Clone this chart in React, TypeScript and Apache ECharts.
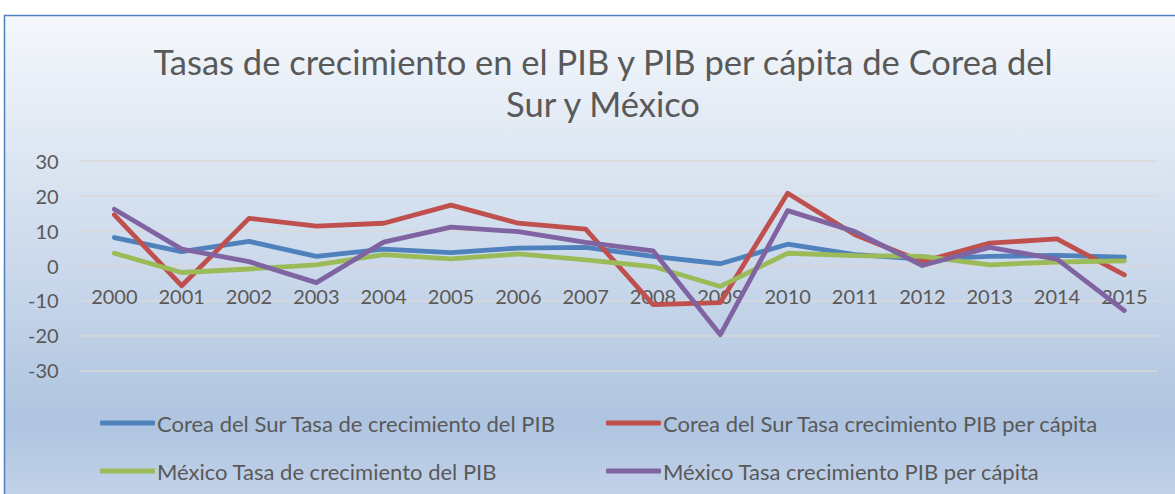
import React, { useEffect, useRef } from "react";
import * as echarts from "echarts";

const years = ["2000","2001","2002","2003","2004","2005","2006","2007","2008","2009","2010","2011","2012","2013","2014","2015"];
const coreaPIB = [8.0, 4.0, 6.9, 2.6, 4.7, 3.7, 5.0, 5.2, 2.6, 0.5, 6.1, 3.1, 1.8, 2.6, 2.9, 2.4];
const coreaPerCapita = [14.5, -5.8, 13.5, 11.3, 12.1, 17.3, 12.1, 10.4, -11.2, -10.6, 20.7, 8.8, 1.1, 6.4, 7.6, -2.7];
const mexicoPIB = [3.5, -2.0, -1.0, 0.2, 3.1, 1.9, 3.3, 1.6, -0.3, -6.0, 3.5, 2.8, 2.6, 0.2, 1.0, 1.3];
const mexicoPerCapita = [16.1, 4.7, 1.1, -4.9, 6.7, 11.0, 9.7, 6.6, 4.2, -19.8, 15.7, 9.7, 0.0, 5.2, 1.8, -12.9];
const seriesNames = [
  "Corea del Sur Tasa de crecimiento del PIB",
  "Corea del Sur Tasa crecimiento PIB per cápita",
  "México Tasa de crecimiento del PIB",
  "México Tasa crecimiento PIB per cápita",
];
const colors = ["#4f81bd", "#c0504d", "#9bbb59", "#8064a2"];
const titleText = "Tasas de crecimiento en el PIB y PIB per cápita de Corea del\nSur y México";

const FONT = "Lato, 'Open Sans', sans-serif";

export default function App() {
  const ref = useRef<HTMLDivElement>(null);
  useEffect(() => {
    if (!ref.current) return;
    const chart = echarts.init(ref.current, undefined, { renderer: "svg" });
    const data = [coreaPIB, coreaPerCapita, mexicoPIB, mexicoPerCapita];
    const legendCommon = {
      orient: "vertical" as const,
      top: 412,
      itemWidth: 55,
      itemHeight: 5,
      itemGap: 26,
      icon: "roundRect",
      textStyle: { fontFamily: FONT, fontSize: 22, color: "#595959", padding: [0, 0, 0, -3] },
      selectedMode: false,
      padding: 0,
    };
    chart.setOption({
      animation: false,
      backgroundColor: "#ffffff",
      title: {
        text: titleText,
        left: 598,
        top: 35,
        textAlign: "center",
        textStyle: { fontFamily: FONT, fontSize: 34.5, fontWeight: 400, color: "#595959", lineHeight: 42 },
      },
      graphic: [
        {
          type: "rect",
          z: -100,
          silent: true,
          shape: { x: 4.5, y: 15.5, width: 1200, height: 480 },
          style: {
            fill: new echarts.graphic.LinearGradient(0, 0, 0, 1, [
              { offset: 0, color: "#f5f8fc" },
              { offset: 0.18, color: "#e6edf6" },
              { offset: 0.52, color: "#cbd9eb" },
              { offset: 0.85, color: "#afc4e0" },
              { offset: 1, color: "#c2d2e9" },
            ]),
            stroke: "#4f81bd",
            lineWidth: 1.5,
          },
        },
      ],
      legend: [
        { ...legendCommon, left: 100, data: [seriesNames[0], seriesNames[2]] },
        { ...legendCommon, left: 606, data: [seriesNames[1], seriesNames[3]] },
      ],
      grid: { left: 80.7, top: 160.7, width: 1077.3, height: 209.6, containLabel: false },
      xAxis: {
        type: "category",
        data: years,
        boundaryGap: true,
        axisLine: { show: false },
        axisTick: { show: false },
        axisLabel: { fontFamily: FONT, fontSize: 20, color: "#595959", margin: -84 },
        splitLine: { show: false },
      },
      yAxis: {
        type: "value",
        min: -30,
        max: 30,
        interval: 10,
        axisLine: { show: false },
        axisTick: { show: false },
        axisLabel: { fontFamily: FONT, fontSize: 20, color: "#595959", margin: 22 },
        splitLine: { show: true, lineStyle: { color: "#d9d9d9", width: 1.5 } },
      },
      series: data.map((d, i) => ({
        name: seriesNames[i],
        type: "line",
        data: d,
        symbol: "none",
        smooth: false,
        color: colors[i],
        lineStyle: { width: 4.8, color: colors[i], cap: "round", join: "round" },
        z: 2 + i,
      })),
    });
    return () => chart.dispose();
  }, []);
  return (
    <div
      ref={ref}
      style={{ position: "fixed", left: 0, top: 0, width: 1175, height: 494, background: "#fff" }}
    />
  );
}
